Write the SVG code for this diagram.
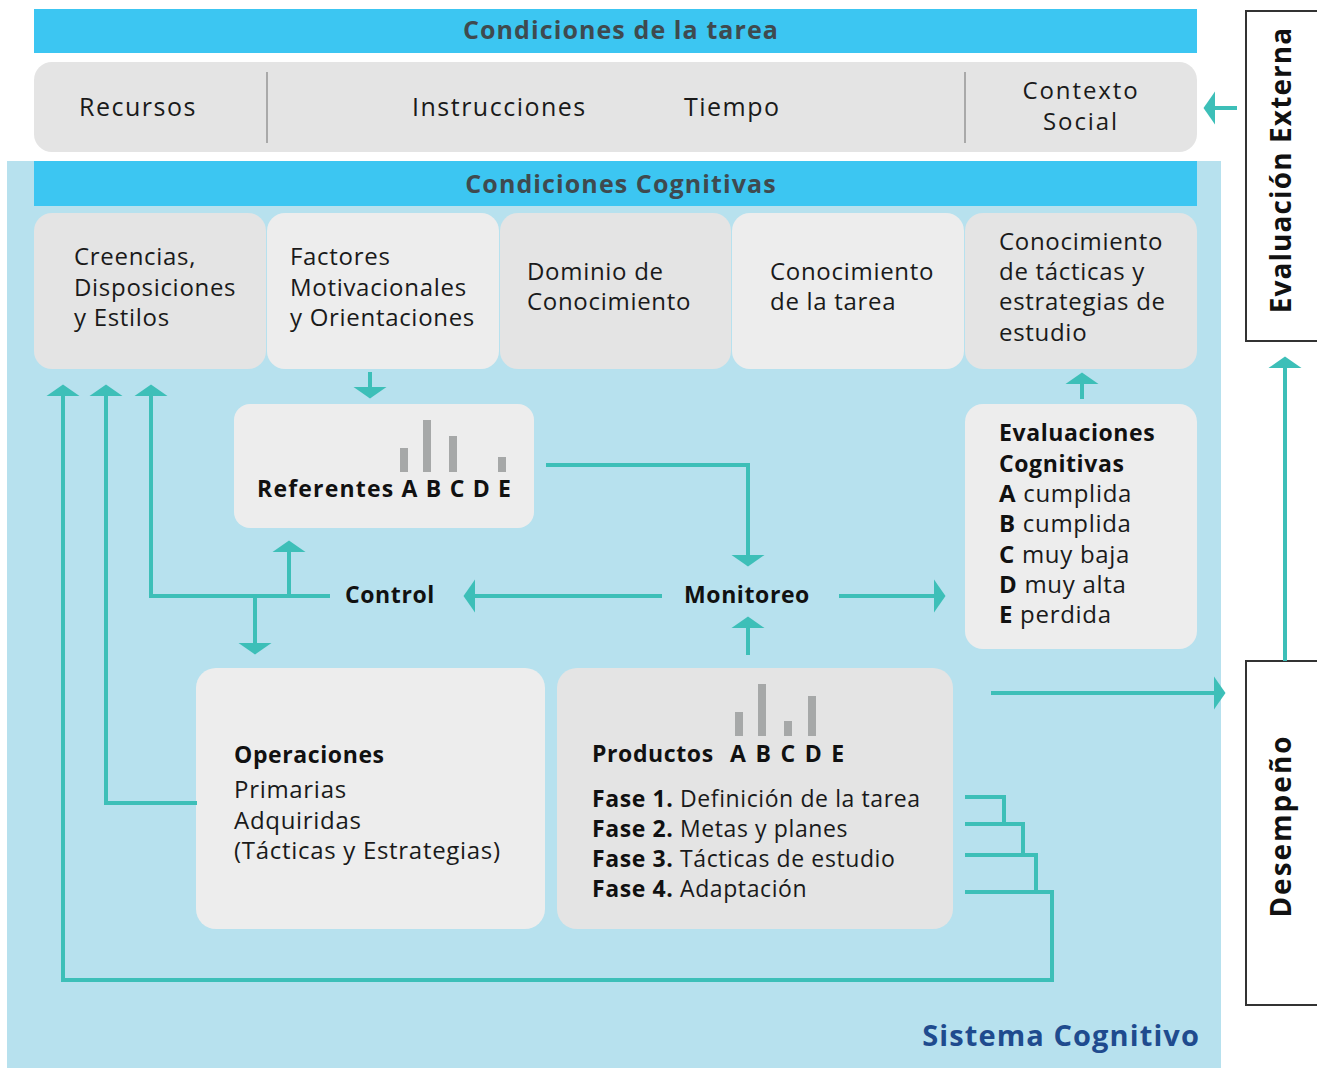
<svg xmlns="http://www.w3.org/2000/svg" width="1317" height="1068" viewBox="0 0 1317 1068">
<defs>
<style>
.t{font-family:"Open Sans","Liberation Sans",sans-serif;font-size:24px;fill:#1a1a1a;letter-spacing:.7px}
.top{font-size:25px;letter-spacing:1.5px}
.ctx{font-size:24px;letter-spacing:1.9px}
.b{font-family:"Open Sans","Liberation Sans",sans-serif;font-weight:700;font-size:23px;fill:#111;letter-spacing:.6px}
.bb{font-weight:700;fill:#111}
.hdr{font-family:"Open Sans","Liberation Sans",sans-serif;font-weight:700;font-size:25px;fill:#3f4a4f;letter-spacing:1.1px;text-anchor:middle}
.rot{font-family:"Open Sans","Liberation Sans",sans-serif;font-weight:700;font-size:28px;fill:#111;text-anchor:middle}
.f{font-size:23px;letter-spacing:.6px}
.bar{fill:#3cc6f2}
.g1{fill:#e4e4e4}
.g2{fill:#ededed}
.col{fill:#a6a8a8}
.ln{fill:none;stroke:#3dbfb8;stroke-width:4;stroke-linejoin:miter}
.ar{marker-end:url(#ah)}
.frame{fill:#fff;stroke:#333;stroke-width:2}
</style>
<marker id="ah" markerUnits="userSpaceOnUse" markerWidth="12" markerHeight="34" viewBox="0 -17 12 34" refX="0" refY="0" orient="auto"><path d="M0,-16.5 L11.5,0 L0,16.5 Z" fill="#3dbfb8"/></marker>
</defs>
<rect x="0" y="0" width="1317" height="1068" fill="#fff"/>
<rect id="sistema-bg" x="7" y="161" width="1214" height="907" fill="#b7e1ee"/>

<g id="condiciones-tarea">
<rect class="bar" x="34" y="9" width="1163" height="44"/>
<text class="hdr" x="621" y="39">Condiciones de la tarea</text>
</g>
<g id="tarea-box">
<rect class="g1" x="34" y="62" width="1163" height="90" rx="18"/>
<line x1="267" y1="72" x2="267" y2="143" stroke="#a9a9a9" stroke-width="2"/>
<line x1="965" y1="72" x2="965" y2="143" stroke="#a9a9a9" stroke-width="2"/>
<text class="t top" x="79" y="116">Recursos</text>
<text class="t top" x="412" y="116">Instrucciones</text>
<text class="t top" x="684" y="116">Tiempo</text>
<text class="t ctx" x="1081" y="99" text-anchor="middle">Contexto</text>
<text class="t ctx" x="1081" y="130" text-anchor="middle">Social</text>
</g>

<g id="condiciones-cognitivas">
<rect class="bar" x="34" y="161" width="1163" height="45"/>
<text class="hdr" x="621" y="193">Condiciones Cognitivas</text>
</g>
<g id="creencias">
<rect class="g1" x="34" y="213" width="232" height="156" rx="18"/>
<text class="t" x="74" y="265">Creencias,</text>
<text class="t" x="74" y="296">Disposiciones</text>
<text class="t" x="74" y="326">y Estilos</text>
</g>
<g id="factores">
<rect class="g2" x="267" y="213" width="232" height="156" rx="18"/>
<text class="t" x="290" y="265">Factores</text>
<text class="t" x="290" y="296">Motivacionales</text>
<text class="t" x="290" y="326">y Orientaciones</text>
</g>
<g id="dominio">
<rect class="g1" x="500" y="213" width="231" height="156" rx="18"/>
<text class="t" x="527" y="280">Dominio de</text>
<text class="t" x="527" y="310">Conocimiento</text>
</g>
<g id="conocimiento-tarea">
<rect class="g2" x="732" y="213" width="232" height="156" rx="18"/>
<text class="t" x="770" y="280">Conocimiento</text>
<text class="t" x="770" y="310">de la tarea</text>
</g>
<g id="conocimiento-tacticas">
<rect class="g1" x="965" y="213" width="232" height="156" rx="18"/>
<text class="t" x="999" y="250">Conocimiento</text>
<text class="t" x="999" y="280">de tácticas y</text>
<text class="t" x="999" y="310">estrategias de</text>
<text class="t" x="999" y="341">estudio</text>
</g>

<g id="referentes">
<rect class="g2" x="234" y="404" width="300" height="124" rx="16"/>
<rect class="col" x="400" y="448" width="8" height="24"/>
<rect class="col" x="423" y="420" width="8" height="52"/>
<rect class="col" x="449" y="436" width="8" height="36"/>
<rect class="col" x="498" y="457" width="8" height="15"/>
<text class="b" x="257" y="497" style="letter-spacing:1.2px">Referentes A B C D E</text>
</g>

<g id="evaluaciones">
<rect class="g2" x="965" y="404" width="232" height="245" rx="18"/>
<text class="b" x="999" y="441">Evaluaciones</text>
<text class="b" x="999" y="472">Cognitivas</text>
<text class="t" x="999" y="502"><tspan class="bb">A</tspan> cumplida</text>
<text class="t" x="999" y="532"><tspan class="bb">B</tspan> cumplida</text>
<text class="t" x="999" y="563"><tspan class="bb">C</tspan> muy baja</text>
<text class="t" x="999" y="593"><tspan class="bb">D</tspan> muy alta</text>
<text class="t" x="999" y="623"><tspan class="bb">E</tspan> perdida</text>
</g>

<g id="control">
<text class="b" x="345" y="603">Control</text>
</g>
<g id="monitoreo">
<text class="b" x="684" y="603">Monitoreo</text>
</g>

<g id="operaciones">
<rect class="g2" x="196" y="668" width="349" height="261" rx="20"/>
<text class="b" x="234" y="763">Operaciones</text>
<text class="t" x="234" y="798">Primarias</text>
<text class="t" x="234" y="829">Adquiridas</text>
<text class="t" x="234" y="859">(Tácticas y Estrategias)</text>
</g>

<g id="productos">
<rect class="g1" x="557" y="668" width="396" height="261" rx="20"/>
<rect class="col" x="735" y="712" width="8" height="24"/>
<rect class="col" x="758" y="684" width="8" height="52"/>
<rect class="col" x="784" y="721" width="8" height="15"/>
<rect class="col" x="808" y="696" width="8" height="40"/>
<text class="b" x="592" y="762">Productos<tspan x="730" style="letter-spacing:1.8px">A B C D E</tspan></text>
<text class="t f" x="592" y="807"><tspan class="bb">Fase 1.</tspan> Definición de la tarea</text>
<text class="t f" x="592" y="837"><tspan class="bb">Fase 2.</tspan> Metas y planes</text>
<text class="t f" x="592" y="867"><tspan class="bb">Fase 3.</tspan> Tácticas de estudio</text>
<text class="t f" x="592" y="897"><tspan class="bb">Fase 4.</tspan> Adaptación</text>
</g>

<g id="sistema-cognitivo-label">
<text x="1200" y="1046" text-anchor="end" style="font-family:'Open Sans','Liberation Sans',sans-serif;font-weight:700;font-size:29px;fill:#1f4b8e;letter-spacing:1.1px">Sistema Cognitivo</text>
</g>

<g id="evaluacion-externa">
<rect class="frame" x="1246" y="11" width="90" height="330"/>
<text class="rot" transform="translate(1291,170) rotate(-90)" style="letter-spacing:1.1px">Evaluación Externa</text>
</g>
<g id="desempeno">
<rect class="frame" x="1246" y="661" width="90" height="344"/>
<text class="rot" transform="translate(1291,826) rotate(-90)" style="letter-spacing:2px">Desempeño</text>
</g>

<g id="connectors">
<path class="ln ar" d="M370,372 V387"/>
<path class="ln" d="M965,797 H1004 V826"/>
<path class="ln" d="M965,824 H1023 V857"/>
<path class="ln" d="M965,855 H1036 V894"/>
<path class="ln ar" d="M965,892 H1052 V980 H63 V396"/>
<path class="ln ar" d="M197,803 H106 V396"/>
<path class="ln ar" d="M330,596 H151 V396"/>
<path class="ln ar" d="M289,598 V552"/>
<path class="ln ar" d="M255,594 V643"/>
<path class="ln ar" d="M662,596 H475"/>
<path class="ln ar" d="M839,596 H934"/>
<path class="ln ar" d="M546,465 H748 V555"/>
<path class="ln ar" d="M748,655 V628"/>
<path class="ln ar" d="M1082,399 V384"/>
<path class="ln ar" d="M991,693 H1214"/>
<path class="ln ar" d="M1285,661 V368"/>
<path class="ln ar" d="M1237,108 H1215"/>
</g>
</svg>
